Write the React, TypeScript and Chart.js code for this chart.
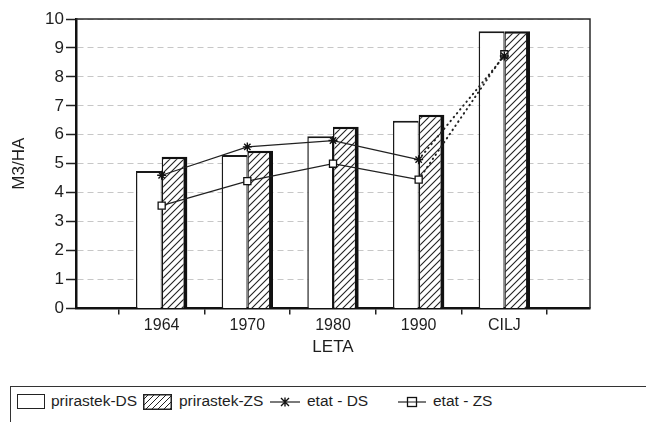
import React, { useEffect, useRef } from 'react';
import { Chart, registerables } from 'chart.js';

Chart.register(...registerables);

// ---- data ----
const categories = ['', '1964', '1970', '1980', '1990', 'CILJ', ''];
const prirastekDS = [null, 4.75, 5.3, 5.95, 6.48, 9.58, null];
const prirastekZS = [null, 5.24, 5.45, 6.28, 6.69, 9.58, null];
const etatDS = [null, 4.6, 5.58, 5.8, 5.14, 8.72, null];
const etatZS = [null, 3.55, 4.4, 5.0, 4.45, 8.78, null];
const yMin = 0;
const yMax = 10;
const yStep = 1;
const xTitle = 'LETA';
const yTitle = 'M3/HA';
const legendLabels = ['prirastek-DS', 'prirastek-ZS', 'etat - DS', 'etat - ZS'];

const FONT = '"Liberation Sans", Arial, Helvetica, sans-serif';
const INK = '#1e1e1e';

function makeHatch(): CanvasPattern | string {
  const c = document.createElement('canvas');
  c.width = 7;
  c.height = 7;
  const g = c.getContext('2d');
  if (!g) return '#fff';
  g.fillStyle = '#fff';
  g.fillRect(0, 0, 7, 7);
  g.strokeStyle = '#222';
  g.lineWidth = 1.1;
  g.beginPath();
  g.moveTo(-1, 8);
  g.lineTo(8, -1);
  g.moveTo(-1, 1);
  g.lineTo(1, -1);
  g.moveTo(6, 8);
  g.lineTo(8, 6);
  g.stroke();
  const p = g.createPattern(c, 'repeat');
  return p || '#fff';
}

const framePlugin = {
  id: 'frame',
  beforeDatasetsDraw(chart: any) {
    const { ctx, chartArea } = chart;
    const { left, top, right, bottom } = chartArea;
    ctx.save();
    ctx.strokeStyle = '#2a2a2a';
    ctx.lineWidth = 1.5;
    ctx.beginPath();
    ctx.moveTo(left, top);
    ctx.lineTo(right, top);
    ctx.lineTo(right, bottom);
    ctx.stroke();
    ctx.restore();
  },
};

function ChartCanvas() {
  const ref = useRef<HTMLCanvasElement | null>(null);
  useEffect(() => {
    if (!ref.current) return;
    const hatch = makeHatch();
    const tickFont = { family: FONT, size: 16 };
    const chart = new Chart(ref.current, {
      type: 'bar',
      data: {
        labels: categories,
        datasets: [
          {
            type: 'line',
            label: legendLabels[2],
            data: etatDS,
            borderColor: '#222',
            borderWidth: 1.2,
            pointStyle: 'star',
            pointRadius: 4.5,
            pointBorderWidth: 1.4,
            pointBorderColor: '#111',
            pointBackgroundColor: '#111',
            borderCapStyle: 'round',
            segment: {
              borderDash: (ctx: any) => (ctx.p1DataIndex === 5 ? [0.5, 4.5] : undefined),
              borderWidth: (ctx: any) => (ctx.p1DataIndex === 5 ? 2 : undefined),
            },
            order: 0,
          } as any,
          {
            type: 'line',
            label: legendLabels[3],
            data: etatZS,
            borderColor: '#222',
            borderWidth: 1.2,
            pointStyle: 'rect',
            pointRadius: 5,
            pointBorderWidth: 1.3,
            pointBorderColor: '#111',
            pointBackgroundColor: '#fff',
            borderCapStyle: 'round',
            segment: {
              borderDash: (ctx: any) => (ctx.p1DataIndex === 5 ? [0.5, 4.5] : undefined),
              borderWidth: (ctx: any) => (ctx.p1DataIndex === 5 ? 2 : undefined),
            },
            order: 0,
          } as any,
          {
            type: 'bar',
            label: legendLabels[0],
            data: prirastekDS,
            backgroundColor: '#fff',
            borderColor: '#1a1a1a',
            borderWidth: { left: 1.5, top: 2, right: 1, bottom: 0 },
            borderSkipped: false,
            categoryPercentage: 0.6,
            barPercentage: 1,
            order: 1,
          } as any,
          {
            type: 'bar',
            label: legendLabels[1],
            data: prirastekZS,
            backgroundColor: hatch,
            borderColor: '#111',
            borderWidth: { left: 1.5, top: 2.5, right: 4, bottom: 0 },
            borderSkipped: false,
            categoryPercentage: 0.6,
            barPercentage: 1,
            order: 1,
          } as any,
        ],
      },
      options: {
        animation: false,
        responsive: false,
        layout: { padding: { left: 0, right: 56, top: 19, bottom: 10 } },
        plugins: {
          legend: { display: false },
          tooltip: { enabled: false },
        },
        scales: {
          x: {
            type: 'category',
            offset: false,
            grid: {
              display: true,
              drawOnChartArea: false,
              drawTicks: true,
              tickLength: 6,
              offset: true,
              color: '#222',
              tickColor: '#222',
              lineWidth: 1.5,
            },
            border: { display: true, color: '#111', width: 2.5 },
            ticks: {
              font: tickFont,
              color: INK,
              padding: 2,
              maxRotation: 0,
              autoSkip: false,
            },
            title: {
              display: true,
              text: xTitle,
              font: { family: FONT, size: 17 },
              color: INK,
              padding: { top: 0, bottom: 2 },
            },
          },
          y: {
            min: yMin,
            max: yMax,
            ticks: {
              stepSize: yStep,
              font: { family: FONT, size: 17 },
              color: INK,
              padding: 2,
            },
            grid: {
              color: 'rgba(0,0,0,0.22)',
              lineWidth: 1,
              tickColor: '#222',
              tickLength: 10,
              tickWidth: 1.5,
            },
            border: { display: true, color: '#111', width: 2.5, dash: [6, 4] },
            title: {
              display: true,
              text: yTitle,
              font: { family: FONT, size: 17 },
              color: INK,
              padding: { top: 9, bottom: 0 },
            },
            afterFit: (scale: any) => {
              scale.width = 76;
            },
          },
        },
      } as any,
      plugins: [framePlugin],
    });
    return () => chart.destroy();
  }, []);
  return <canvas ref={ref} width={646} height={370} style={{ display: 'block' }} />;
}

function HatchIcon() {
  return (
    <svg width={29} height={16} style={{ position: 'absolute', left: 143, top: 394 }}>
      <defs>
        <pattern id="lh" width="6" height="6" patternUnits="userSpaceOnUse">
          <path d="M-1,7 L7,-1 M-1,1 L1,-1 M5,7 L7,5" stroke="#222" strokeWidth="1" />
        </pattern>
      </defs>
      <rect x={0.75} y={0.75} width={27.5} height={14.5} fill="url(#lh)" stroke="#222" strokeWidth={1.5} />
    </svg>
  );
}

function Legend() {
  const text: React.CSSProperties = {
    position: 'absolute',
    top: 392,
    fontFamily: FONT,
    fontSize: 15.5,
    lineHeight: '18px',
    color: INK,
    whiteSpace: 'nowrap',
  };
  return (
    <>
      <div
        style={{
          position: 'absolute',
          left: 10,
          top: 386,
          width: 700,
          height: 60,
          borderTop: '1.5px solid #333',
          borderLeft: '1.5px solid #333',
        }}
      />
      <div
        style={{
          position: 'absolute',
          left: 17,
          top: 394,
          width: 26,
          height: 13,
          border: '1.5px solid #222',
          background: '#fff',
        }}
      />
      <span style={{ ...text, left: 51 }}>{legendLabels[0]}</span>
      <HatchIcon />
      <span style={{ ...text, left: 179 }}>{legendLabels[1]}</span>
      <svg width={32} height={16} style={{ position: 'absolute', left: 269, top: 394 }}>
        <line x1={1} y1={8} x2={31} y2={8} stroke="#222" strokeWidth={1.2} />
        <path d="M12,4 L20,12 M20,4 L12,12 M16,3.5 L16,12.5" stroke="#111" strokeWidth={1.4} />
      </svg>
      <span style={{ ...text, left: 307 }}>{legendLabels[2]}</span>
      <svg width={30} height={16} style={{ position: 'absolute', left: 397, top: 394 }}>
        <line x1={1} y1={8} x2={29} y2={8} stroke="#222" strokeWidth={1.2} />
        <rect x={10.5} y={3.5} width={9} height={9} fill="#fff" stroke="#111" strokeWidth={1.3} />
        <line x1={10.5} y1={8} x2={19.5} y2={8} stroke="#222" strokeWidth={1} />
      </svg>
      <span style={{ ...text, left: 433 }}>{legendLabels[3]}</span>
    </>
  );
}

export default function App() {
  return (
    <div
      style={{
        position: 'fixed',
        left: 0,
        top: 0,
        width: 646,
        height: 422,
        overflow: 'hidden',
        background: '#fff',
      }}
    >
      <ChartCanvas />
      <Legend />
    </div>
  );
}
